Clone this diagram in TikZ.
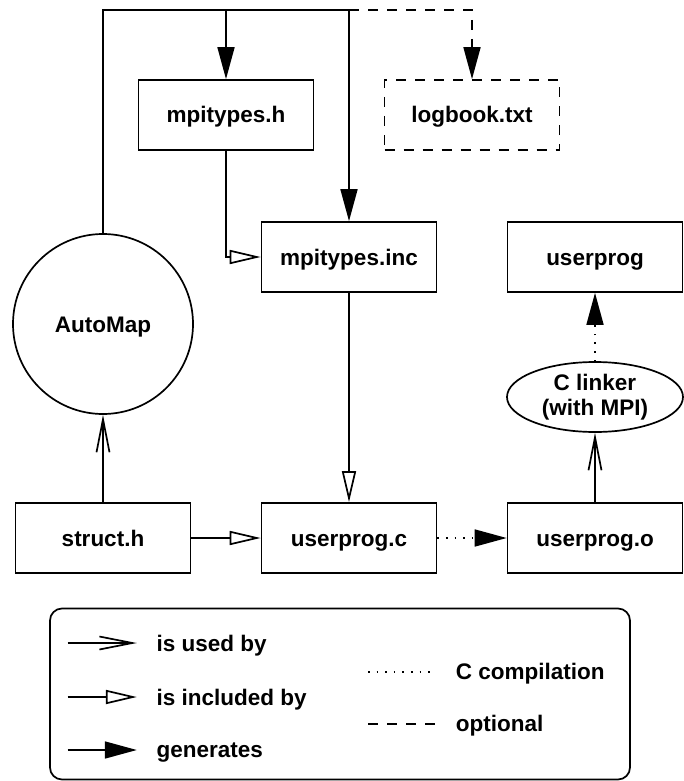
\documentclass[tikz,border=0pt]{standalone}
\usepackage{fontspec}
\setmainfont{Liberation Sans}
\usetikzlibrary{arrows.meta,shapes.geometric}
\begin{document}
\begin{tikzpicture}[x=1pt,y=-1pt,line width=1.7pt,
  every node/.style={font=\bfseries\fontsize{22.5}{25}\selectfont},
  filebox/.style={draw,rectangle,minimum width=175pt,minimum height=70pt,inner sep=0pt,text height=16pt,text depth=0pt},
  optbox/.style={filebox,dash pattern=on 10pt off 9pt},
  used/.style={-{Straight Barb[length=33pt,width=13pt]}},
  incl/.style={-{Triangle[open,length=31pt,width=14pt,fill=white]}},
  gen/.style={-{Triangle[length=32pt,width=17pt]}},
  ccomp/.style={dash pattern=on 1.6pt off 7pt},
  opt/.style={dash pattern=on 10pt off 9pt},
  lbl/.style={anchor=base west,inner sep=0pt}]
\useasboundingbox (0,0) rectangle (684,781);
% nodes
\node[filebox] (mpih) at (226,115) {mpitypes.h};
\node[optbox] (logbook) at (472,115) {logbook.txt};
\node[filebox] (inc) at (349,257) {mpitypes.inc};
\node[filebox] (uprog) at (595,257) {userprog};
\node[draw,circle,minimum size=180pt,inner sep=0pt,text height=16pt,text depth=0pt] (automap) at (103,324) {AutoMap};
\node[draw,ellipse,minimum width=176pt,minimum height=70pt,inner sep=0pt,align=center] (linker) at (595,397) {C linker\\(with MPI)};
\node[filebox] (struct) at (103,538) {struct.h};
\node[filebox] (userc) at (349,538) {userprog.c};
\node[filebox] (usero) at (595,538) {userprog.o};
% top routing
\coordinate (t1) at (103,10);
\coordinate (t4) at (226,10);
\coordinate (t2) at (349,10);
\coordinate (t3) at (472,10);
\draw[gen] (automap.north) -- (t1) -- (t2) -- (inc.north);
\draw[gen] (t4) -- (mpih.north);
\draw[gen,opt] (t2) -- (t3) -- (logbook.north);
% connectors
\draw[incl] (mpih.south) |- (inc.west);
\draw[incl] (inc.south) -- (userc.north);
\draw[incl] (struct.east) -- (userc.west);
\draw[used] (struct.north) -- (automap.south);
\draw[gen,ccomp] (userc.east) -- (usero.west);
\draw[used] (usero.north) -- (linker.south);
\draw[gen,ccomp] (linker.north) -- (uprog.south);
% legend
\node[draw,rectangle,rounded corners=12pt,minimum width=580pt,minimum height=171pt,inner sep=0pt] (legend) at (340,694) {};
\coordinate (la1) at (67.6,643); \coordinate (lb1) at (136.8,643);
\coordinate (la2) at (67.6,697); \coordinate (lb2) at (136.8,697);
\coordinate (la3) at (67.6,750); \coordinate (lb3) at (136.8,750);
\coordinate (lc1) at (368,672); \coordinate (ld1) at (435,672);
\coordinate (lc2) at (368,724); \coordinate (ld2) at (435,724);
\draw[used] (la1) -- (lb1);
\draw[incl] (la2) -- (lb2);
\draw[gen] (la3) -- (lb3);
\draw[ccomp] (lc1) -- (ld1);
\draw[opt] (lc2) -- (ld2);
\node[lbl] (l1) at (155.7,651) {is used by};
\node[lbl] (l2) at (155.7,705) {is included by};
\node[lbl] (l3) at (155.7,757) {generates};
\node[lbl] (l4) at (455,679) {C compilation};
\node[lbl] (l5) at (455,731.5) {optional};
\end{tikzpicture}
\end{document}
